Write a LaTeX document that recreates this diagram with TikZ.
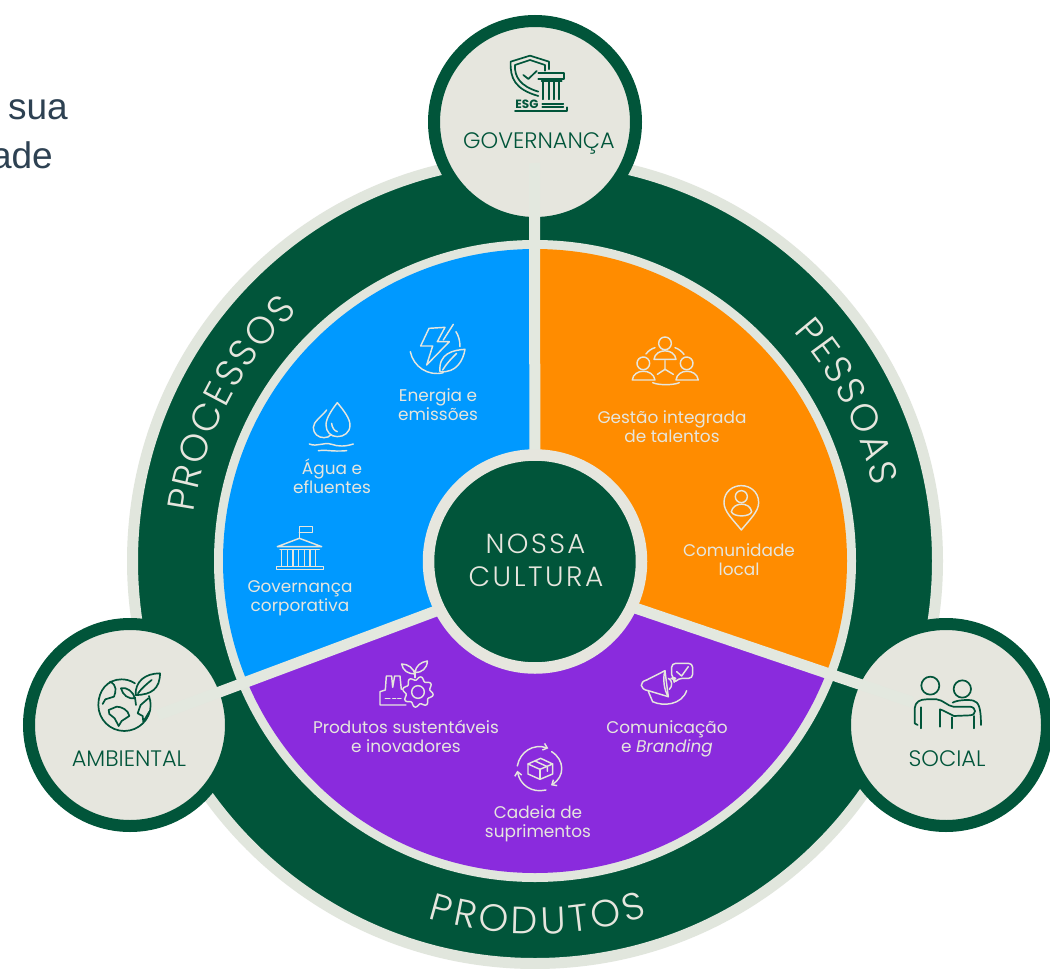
\documentclass[tikz,border=0pt]{standalone}
\usepackage{fontspec}
\setmainfont{Poppins}
\newfontfamily\lightfont{Poppins Light}
\newfontfamily\spacedfont[LetterSpace=9]{Poppins Light}
\newfontfamily\headfont{Liberation Sans}
\usetikzlibrary{decorations.text,arrows.meta}
\definecolor{dkgreen}{HTML}{01553A}
\definecolor{ringlt}{HTML}{E1E6DD}
\definecolor{hublt}{HTML}{E6E6DE}
\definecolor{spokelt}{HTML}{E3E8DF}
\definecolor{pblue}{HTML}{0099FF}
\definecolor{porange}{HTML}{FF8C00}
\definecolor{ppurple}{HTML}{8A2BDD}
\definecolor{slate}{HTML}{2D4152}
\newcommand{\curvefont}{\lightfont\fontsize{38}{38}\selectfont}
\tikzset{
  hub/.style={circle,draw=dkgreen,fill=hublt,line width=12pt,minimum size=202pt,inner sep=0pt,outer sep=0pt},
  spoke/.style={draw=spokelt,line width=11pt},
  plabel/.style={anchor=base,align=center,inner sep=0pt,text=hublt,font=\fontsize{16.9}{18.5}\selectfont},
  hlabel/.style={anchor=base,inner sep=0pt,text=dkgreen,font=\lightfont\fontsize{22.4}{24}\selectfont},
  iconw/.style={draw=hublt,line width=1.45pt,line join=round,line cap=round},
  icong/.style={draw=dkgreen,line width=1.7pt,line join=round,line cap=round},
  curved/.style={decorate,decoration={text along path,text={|\curvefont\color{hublt}|#1},text align={fit to path}}}
}
\begin{document}
\begin{tikzpicture}[x=1pt,y=-1pt]
\useasboundingbox (0,0) rectangle (1050,969);
\clip (0,0) rectangle (1050,969);
\fill[white] (0,0) rectangle (1050,969);
% heading fragments
\node[anchor=base east,inner sep=0pt,text=slate,font=\headfont\fontsize{37}{40}\selectfont] (hsua) at (68,119) {sua};
\node[anchor=base east,inner sep=0pt,text=slate,font=\headfont\fontsize{37}{40}\selectfont] (hade) at (53,168) {ade};
% rings
\node[circle,draw=ringlt,fill=dkgreen,line width=11pt,minimum size=805pt,inner sep=0pt,outer sep=0pt] (band) at (535,561) {};
\node[circle,fill=ringlt,minimum size=642pt,inner sep=0pt,outer sep=0pt] (piering) at (535,561) {};
% sectors
\coordinate (pivot) at (535,574);
\coordinate (govEnd) at (534.5,163);
\coordinate (ambEnd) at (158,715);
\coordinate (socEnd) at (912,702);
\begin{scope}
\clip (535,561) circle[radius=312];
\fill[pblue] (pivot) -- (535,200) -- (150,200) -- (150,717) -- cycle;
\fill[porange] (pivot) -- (535,200) -- (920,200) -- (920,705.5) -- cycle;
\fill[ppurple] (pivot) -- (150,717) -- (150,950) -- (920,950) -- (920,705.5) -- cycle;
\end{scope}
% hubs
\node[hub] (gov) at (535,122) {};
\node[hub] (amb) at (130,725) {};
\node[hub] (soc) at (946,725) {};
% spokes
\draw[spoke] (govEnd) -- (pivot);
\draw[spoke] (ambEnd) -- (pivot);
\draw[spoke] (socEnd) -- (pivot);
% centre
\node[circle,draw=hublt,fill=dkgreen,line width=11.5pt,minimum size=213pt,inner sep=0pt,outer sep=0pt] (core) at (535,561.5) {};
\node[anchor=base,inner sep=0pt,text=hublt,font=\spacedfont\fontsize{27.5}{27.5}\selectfont] (nossa) at (535.5,553) {NOSSA};
\node[anchor=base,inner sep=0pt,text=hublt,font=\spacedfont\fontsize{28}{28}\selectfont] (cultura) at (536,586) {CULTURA};
% curved labels
\path[curved=PROCESSOS] plot[domain=172:133.5,samples=41] ({535+345*cos(\x)},{561-345*sin(\x)});
\path[curved=PESSOAS] plot[domain=41.6:12.5,samples=41] ({535+346*cos(\x)},{561-346*sin(\x)});
\path[curved=PRODUTOS] plot[domain=253.3:287.5,samples=41] ({535+373*cos(\x)},{561-373*sin(\x)});
% hub labels
\node[hlabel] (lgov) at (539,148) {GOVERNANÇA};
\node[hlabel] (lamb) at (129,766) {AMBIENTAL};
\node[hlabel] (lsoc) at (947,766) {SOCIAL};
% sector labels
\node[plabel] (l1) at (438,420) {Energia e\\emissões};
\node[plabel] (l2) at (332,493) {Água e\\efluentes};
\node[plabel] (l3) at (300,611) {Governança\\corporativa};
\node[plabel] (l4) at (672,442) {Gestão integrada\\de talentos};
\node[plabel] (l5) at (739,575) {Comunidade\\local};
\node[plabel] (l6) at (406,752) {Produtos sustentáveis\\e inovadores};
\node[plabel] (l7) at (667,752) {Comunicação\\e \textit{Branding}};
\node[plabel] (l8) at (538,837) {Cadeia de\\suprimentos};
% icons of the blue sector
\begin{scope}[shift={(230,310)},x=0.3333pt,y=-0.3333pt,iconw]
 \draw (597,55) -- (645,52) -- (622,95) -- (658,95) -- (590,165) -- (608,108) -- (572,108) -- cycle;
 \draw (670,43) -- (640,90);
 \draw (678,65) .. controls (686,78) and (690,92) .. (690,110);
 \draw (541,125) .. controls (550,170) and (595,200) .. (640,188);
 \draw (705,118) .. controls (670,120) and (625,130) .. (630,185) .. controls (680,190) and (700,150) .. (705,118) -- cycle;
 \draw (638,180) .. controls (650,160) and (665,145) .. (680,130);
 % water
 \draw (322,278) .. controls (340,300) and (360,325) .. (360,345) .. controls (360,368) and (342,380) .. (322,380) .. controls (302,380) and (288,365) .. (288,345) .. controls (288,325) and (305,300) .. (322,278) -- cycle;
 \draw (290,300) .. controls (275,320) and (250,335) .. (250,352) .. controls (250,372) and (265,383) .. (282,383) .. controls (292,383) and (298,380) .. (303,374);
 \draw (305,340) .. controls (306,352) and (312,362) .. (322,365);
 \draw (238,402) .. controls (262,412) and (280,395) .. (305,403) .. controls (325,410) and (345,410) .. (370,402);
 \draw (265,422) .. controls (285,418) and (305,426) .. (350,422);
 % bank
 \draw (208,685) -- (208,650) -- (248,650) -- (248,668) -- (208,668);
 \draw (142,710) -- (208,685) -- (275,710) -- cycle;
 \draw (150,718) -- (268,718);
 \foreach \cx in {155,172,189,206,223,240,257}{ \draw (\cx,720) -- (\cx,768); }
 \draw (140,770) rectangle (280,778);
\end{scope}
% icons of the orange sector
\begin{scope}[shift={(590,320)},x=0.3333pt,y=-0.3333pt,iconw]
 \draw (225,70) circle[radius=19];
 \draw (192,118) .. controls (196,84) and (254,84) .. (258,118) -- cycle;
 \draw (160,130) circle[radius=19];
 \draw (127,180) .. controls (130,145) and (190,145) .. (195,180) -- cycle;
 \draw (290,130) circle[radius=19];
 \draw (258,180) .. controls (262,145) and (320,145) .. (325,180) -- cycle;
 \draw (225,122) -- (225,148) -- (202,163);
 \draw (225,148) -- (250,163);
 \draw (168,102) .. controls (175,92) and (185,86) .. (195,83);
 \draw (255,83) .. controls (265,86) and (275,94) .. (282,103);
 \draw (188,188) .. controls (205,196) and (250,196) .. (268,188);
 % pin
 \draw (454,630) .. controls (430,600) and (402,575) .. (402,548) .. controls (402,515) and (428,497) .. (454,497) .. controls (480,497) and (506,515) .. (506,548) .. controls (506,575) and (478,600) .. (454,630) -- cycle;
 \draw (454,530) circle[radius=18];
 \draw (424,575) .. controls (430,545) and (480,545) .. (485,575) .. controls (480,592) and (430,592) .. (424,575) -- cycle;
\end{scope}
% icons of the purple sector
\begin{scope}[shift={(300,650)},x=0.3333pt,y=-0.3333pt,iconw]
 % factory
 \draw (318,165) -- (240,165) -- (240,125) -- (256,120) -- (259,78) -- (275,78) -- (278,112) -- (284,78) -- (300,78) -- (304,118);
 \draw (256,145) -- (270,145);
 \draw (278,145) -- (287,145);
 \draw (293,145) -- (303,145);
 \draw (354,126) circle[radius=19];
 \draw plot[domain=0:360,samples=145] ({354+41*cos(\x)+5*cos(\x)*sin(8*\x)},{126+41*sin(\x)+5*sin(\x)*sin(8*\x)});
 \draw (345,83) -- (345,62);
 \draw (345,72) .. controls (340,55) and (325,42) .. (305,42) .. controls (308,62) and (325,72) .. (345,72) -- cycle;
 \draw (345,68) .. controls (347,48) and (362,36) .. (382,33) .. controls (382,55) and (365,68) .. (345,68) -- cycle;
 % megaphone
 \draw (1040,90) -- (1095,62) -- (1105,140) -- (1045,122);
 \draw (1040,90) .. controls (1018,95) and (1018,118) .. (1045,122);
 \draw (1095,62) .. controls (1088,85) and (1092,120) .. (1105,140);
 \draw (1105,85) .. controls (1118,90) and (1118,110) .. (1108,118);
 \draw (1045,124) -- (1058,155);
 \draw (1058,155) .. controls (1090,170) and (1145,165) .. (1160,122);
 \draw[rounded corners=4pt] (1122,100) -- (1125,85) -- (1115,85) -- (1115,40) -- (1178,40) -- (1178,85) -- (1135,85) -- cycle;
 \draw (1130,65) -- (1145,78) -- (1165,50);
 % box with arrows
 \draw (722,325) -- (758,342) -- (758,372) -- (720,388) -- (684,372) -- (684,342) -- cycle;
 \draw (684,342) -- (720,358) -- (758,342);
 \draw (720,358) -- (720,388);
 \draw (705,333) -- (742,350) -- (742,364);
 \draw[-{Straight Barb[length=4pt,width=7pt]}] (652,348) .. controls (660,305) and (700,280) .. (745,295);
 \draw[-{Straight Barb[length=4pt,width=7pt]}] (755,305) .. controls (795,330) and (795,380) .. (753,406);
 \draw[-{Straight Barb[length=4pt,width=7pt]}] (738,420) .. controls (695,430) and (660,405) .. (652,362);
\end{scope}
% governance icon
\begin{scope}[shift={(430,10)},x=0.3333pt,y=-0.3333pt,icong]
 \draw (357,178) -- (357,155) -- (300,137) -- (242,155) .. controls (240,205) and (255,238) .. (325,258);
 \draw (345,182) -- (345,165) -- (300,150) -- (255,165) .. controls (253,200) and (270,228) .. (325,245);
 \draw (280,195) -- (295,207) -- (320,183);
 \draw (325,188) -- (403,188) -- (403,206) -- (325,206);
 \draw (335,214) -- (395,214);
 \foreach \cx in {340,356,372,388}{ \draw (\cx,214) -- (\cx,268); }
 \draw (337,282) -- (400,282);
 \draw (400,292) -- (337,292);
 \draw (255,303) -- (410,303) -- (410,292);
 \node[anchor=base,inner sep=0pt,text=dkgreen,font=\bfseries\fontsize{12}{12}\selectfont] (esg) at (291,295) {ESG};
\end{scope}
% environment icon
\begin{scope}[shift={(20,610)},x=0.3333pt,y=-0.3333pt,icong]
 \draw (345,220) .. controls (330,210) and (315,208) .. (305,208) .. controls (262,208) and (235,242) .. (235,285) .. controls (235,328) and (270,363) .. (313,363) .. controls (356,363) and (392,328) .. (392,285) .. controls (392,275) and (390,268) .. (387,258);
 \draw (420,190) .. controls (375,190) and (345,215) .. (347,255) .. controls (395,255) and (420,235) .. (420,190) -- cycle;
 \draw (354,250) .. controls (365,235) and (380,222) .. (395,210);
 \draw (303,235) .. controls (320,230) and (340,245) .. (345,265) .. controls (325,268) and (308,255) .. (303,235) -- cycle;
 \draw (345,262) -- (348,285);
 \draw (270,215) .. controls (292,225) and (288,245) .. (282,260) -- (256,268) -- (248,282);
 \draw (266,300) -- (290,290) .. controls (305,290) and (325,300) .. (328,318) -- (305,333) -- (296,348) -- (284,325) -- (268,312) -- cycle;
 \draw (385,265) -- (362,285) -- (353,310) -- (368,318) -- (370,335) -- (388,305);
\end{scope}
% social icon
\begin{scope}[shift={(810,610)},x=0.3333pt,y=-0.3333pt,icong]
 \draw (361,227) circle[radius=27];
 \draw (457,237) circle[radius=26];
 \draw (323,345) -- (314,340) -- (314,295) .. controls (316,275) and (330,268) .. (350,268) -- (380,268) .. controls (400,270) and (412,288) .. (430,290) -- (480,290) .. controls (500,292) and (500,315) .. (480,316) -- (432,318) -- (400,302) -- (390,298) -- (390,350);
 \draw (333,292) -- (333,355);
 \draw (428,278) .. controls (440,270) and (478,268) .. (490,272) .. controls (505,276) and (513,290) .. (513,345);
 \draw (425,322) -- (425,355);
 \draw (492,318) -- (492,355);
\end{scope}
\end{tikzpicture}
\end{document}
